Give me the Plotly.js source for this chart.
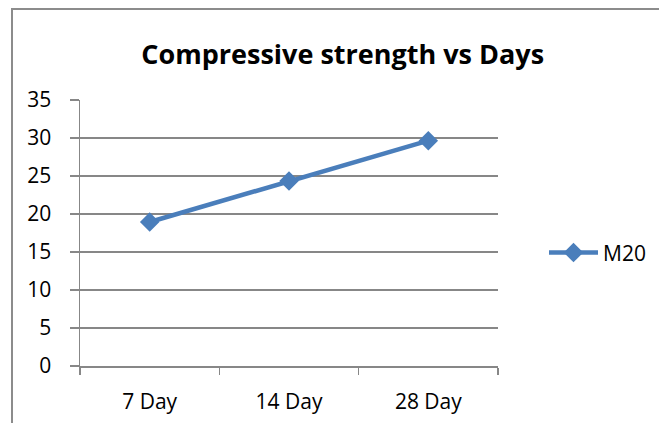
<!DOCTYPE html>
<html>
<head>
<meta charset="utf-8">
<script src="https://cdn.plot.ly/plotly-3.0.1.min.js"></script>
<style>
html,body{margin:0;padding:0;background:#fff;}
#wrap{position:relative;width:659px;height:423px;overflow:hidden;}
#frameTop{position:absolute;left:12px;top:8px;width:647px;height:0;border-top:2px solid #8c8c8c;}
#frameLeft{position:absolute;left:11px;top:8px;width:0;height:415px;border-left:2px solid #8c8c8c;}
#chart{position:absolute;left:0;top:0;width:659px;height:423px;}
</style>
</head>
<body>
<div id="wrap">
<div id="chart"></div>
<div id="frameTop"></div>
<div id="frameLeft"></div>
</div>
<script>
const categories = ["7 Day", "14 Day", "28 Day"];
const seriesName = "M20";
const values = [18.95, 24.35, 29.65];
const yTicks = [0, 5, 10, 15, 20, 25, 30, 35];

const font = "'Open Sans', Calibri, sans-serif";
const grid = "#878787";

const trace = {
  type: "scatter",
  mode: "lines+markers",
  name: seriesName,
  x: categories,
  y: values,
  line: {color: "#4a7ebb", width: 4.5},
  marker: {symbol: "diamond", size: 15, color: "#4a7ebb"}
};

const layout = {
  width: 659, height: 423,
  margin: {l: 80, r: 2, t: 100, b: 57, pad: 0},
  paper_bgcolor: "#fff", plot_bgcolor: "#fff",
  font: {family: font, color: "#000", size: 21},
  title: {
    text: "<b>Compressive strength vs Days</b>",
    font: {family: font, size: 27, color: "#000"},
    x: 0.52, xanchor: "center", y: 0.872, yanchor: "middle"
  },
  showlegend: true,
  legend: {x: (544 - 80) / 577, y: 0.425, xanchor: "left", yanchor: "middle",
           itemwidth: 49,
           font: {family: font, size: 21}, bgcolor: "rgba(0,0,0,0)"},
  xaxis: {
    type: "category",
    domain: [0, 418 / 577],
    range: [-0.5, 2.5],
    tickson: "boundaries",
    ticks: "outside", ticklen: 7, tickcolor: grid, tickwidth: 1.5,
    showline: true, linecolor: grid, linewidth: 1.5,
    showgrid: false, zeroline: false,
    ticklabelstandoff: 16,
    tickfont: {family: font, size: 21}
  },
  yaxis: {
    range: [0, 35],
    tickvals: yTicks,
    ticks: "outside", ticklen: 9, tickcolor: grid, tickwidth: 1.5,
    showline: true, linecolor: grid, linewidth: 1.5,
    showgrid: true, gridcolor: grid, gridwidth: 1.5,
    zeroline: false,
    ticklabelstandoff: 14,
    tickfont: {family: font, size: 21}
  }
};

Plotly.newPlot("chart", [trace], layout, {displayModeBar: false, staticPlot: true});
</script>
</body>
</html>
